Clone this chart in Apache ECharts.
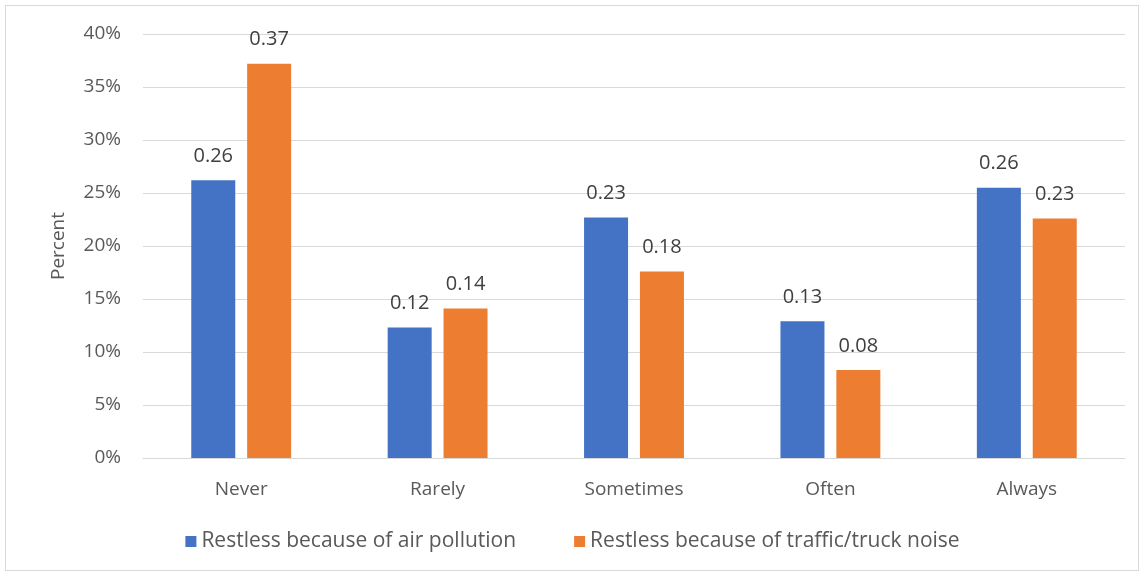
<!DOCTYPE html>
<html>
<head>
<meta charset="utf-8">
<script src="https://cdn.jsdelivr.net/npm/echarts@6/dist/echarts.min.js"></script>
<style>
html,body{margin:0;padding:0;background:#fff;}
#wrap{position:absolute;left:5px;top:5px;width:1134px;height:566px;border:1px solid #d9d9d9;box-sizing:border-box;}
#chart{position:absolute;left:0;top:0;width:1145px;height:577px;}
</style>
</head>
<body>
<div id="wrap"></div>
<div id="chart"></div>
<script>
const categories = ["Never", "Rarely", "Sometimes", "Often", "Always"];
const seriesNames = ["Restless because of air pollution", "Restless because of traffic/truck noise"];
const airPollution = [0.262, 0.123, 0.227, 0.129, 0.255];
const trafficNoise = [0.372, 0.141, 0.176, 0.083, 0.226];
const yTicks = { min: 0, max: 0.4, interval: 0.05 };

const font = "'Open Sans', 'Liberation Sans', sans-serif";
const chart = echarts.init(document.getElementById('chart'), null, {renderer: 'canvas'});
const labelCfg = {
  show: true, position: 'top', distance: 14,
  color: '#404040', fontFamily: font, fontSize: 20,
  formatter: p => p.value.toFixed(2)
};
chart.setOption({
  animation: false,
  backgroundColor: 'transparent',
  grid: { left: 143, right: 20, top: 34, bottom: 119 },
  legend: {
    bottom: 20, left: 'center',
    itemWidth: 11, itemHeight: 11, itemGap: 58,
    icon: 'rect',
    textStyle: { color: '#595959', fontFamily: font, fontSize: 21 },
    data: seriesNames
  },
  xAxis: {
    type: 'category', data: categories,
    axisLine: { lineStyle: { color: '#d9d9d9', width: 1 } },
    axisTick: { show: false },
    axisLabel: { color: '#595959', fontFamily: font, fontSize: 19, margin: 22 }
  },
  yAxis: {
    type: 'value', min: yTicks.min, max: yTicks.max, interval: yTicks.interval,
    name: 'Percent', nameLocation: 'middle', nameGap: 75, nameRotate: 90,
    nameTextStyle: { color: '#595959', fontFamily: font, fontSize: 19 },
    axisLine: { show: false }, axisTick: { show: false },
    splitLine: { lineStyle: { color: '#d9d9d9', width: 1 } },
    axisLabel: { color: '#595959', fontFamily: font, fontSize: 19, margin: 22,
      formatter: v => Math.round(v * 100) + '%' }
  },
  series: [
    { name: seriesNames[0], type: 'bar', data: airPollution, barWidth: 44, barGap: '27%',
      itemStyle: { color: '#4472c4' }, label: labelCfg },
    { name: seriesNames[1], type: 'bar', data: trafficNoise, barWidth: 44, barGap: '27%',
      itemStyle: { color: '#ed7d31' }, label: labelCfg }
  ]
});
</script>
</body>
</html>
